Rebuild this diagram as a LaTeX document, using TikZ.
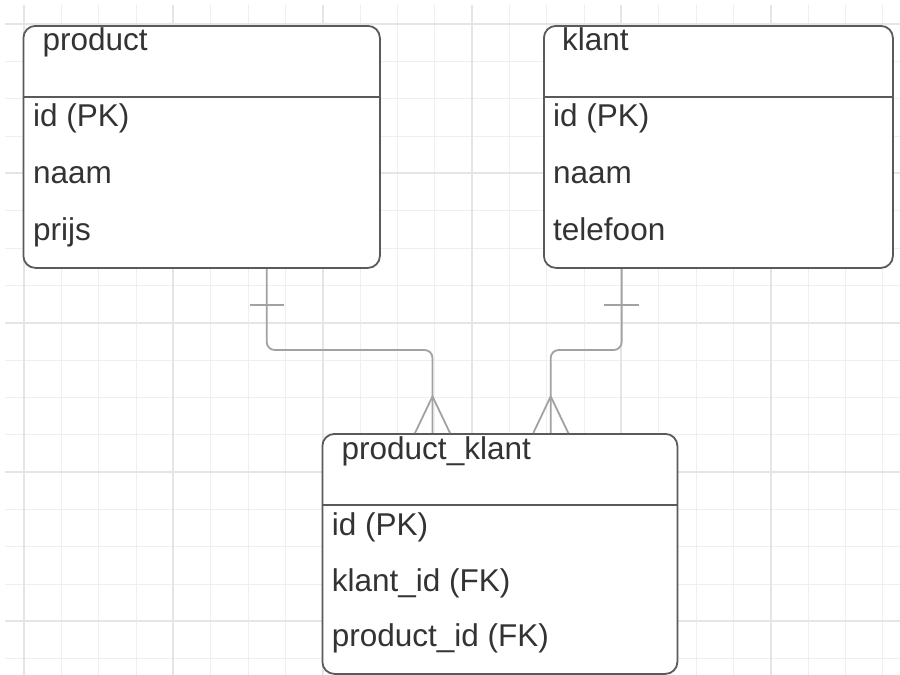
\documentclass[tikz,border=0pt]{standalone}
\usepackage{fontspec}
\setmainfont{Liberation Sans}
\usetikzlibrary{calc}
\definecolor{gridminor}{HTML}{EFEFEF}
\definecolor{gridmajor}{HTML}{E5E5E5}
\definecolor{boxline}{HTML}{5A5A5A}
\definecolor{connline}{HTML}{A2A2A2}
\definecolor{txt}{HTML}{333333}
\tikzset{
  minorline/.style={draw=gridminor, line width=1pt},
  majorline/.style={draw=gridmajor, line width=2pt},
  tablebox/.style={draw=boxline, fill=white, line width=1.8pt, rounded corners=12pt,
    rectangle, inner sep=0pt, anchor=north west},
  divider/.style={draw=boxline, line width=1.8pt},
  label/.style={anchor=base west, inner sep=0pt, text=txt, font=\fontsize{31.5}{36}\selectfont},
  conn/.style={draw=connline, line width=1.8pt},
}
\begin{document}
\begin{tikzpicture}[x=1pt,y=-1pt]
\fill[white] (0,0) rectangle (900,675);
\useasboundingbox (0,0) rectangle (900,675);
% grid
\foreach \i in {0,...,23} {
  \draw[minorline] ({24+37.333*\i},5) -- ({24+37.333*\i},675);
}
\foreach \j in {0,...,17} {
  \draw[minorline] (5,{24+37.333*\j}) -- (900,{24+37.333*\j});
}
\foreach \i in {0,4,...,20} {
  \draw[majorline] ({24+37.333*\i},5) -- ({24+37.333*\i},675);
}
\foreach \j in {0,4,...,16} {
  \draw[majorline] (5,{24+37.333*\j}) -- (900,{24+37.333*\j});
}

% connectors
\draw[conn, rounded corners=8pt] (266.7,267) -- (266.7,350) -- (432.5,350) -- (432.5,433);
\draw[conn, rounded corners=8pt] (621.7,267) -- (621.7,350) -- (550.7,350) -- (550.7,433);

% tables
\node[tablebox, minimum width=356.5pt, minimum height=242pt] (product) at (22.5,25) {};
\node[tablebox, minimum width=349pt, minimum height=242pt] (klant) at (543,25) {};
\node[tablebox, minimum width=355pt, minimum height=240pt] (pk) at (321.5,433) {};

\draw[divider] ($(product.north west)+(0,72)$) -- ($(product.north east)+(0,72)$);
\draw[divider] ($(klant.north west)+(0,72)$) -- ($(klant.north east)+(0,72)$);
\draw[divider] ($(pk.north west)+(0,72)$) -- ($(pk.north east)+(0,72)$);

% texts
\node[label] (productT) at ($(product.north west)+(20,25)$) {product};
\node[label] (product1) at ($(product.north west)+(10.5,101)$) {id (PK)};
\node[label] (product2) at ($(product.north west)+(10.5,158.3)$) {naam};
\node[label] (product3) at ($(product.north west)+(10.5,215)$) {prijs};

\node[label] (klantT) at ($(klant.north west)+(19,25)$) {klant};
\node[label] (klant1) at ($(klant.north west)+(10,101)$) {id (PK)};
\node[label] (klant2) at ($(klant.north west)+(10,158.3)$) {naam};
\node[label] (klant3) at ($(klant.north west)+(10,215)$) {telefoon};

\node[label] (pkT) at ($(pk.north west)+(20,26.3)$) {product\_klant};
\node[label] (pk1) at ($(pk.north west)+(10.2,102)$) {id (PK)};
\node[label] (pk2) at ($(pk.north west)+(10.2,158.7)$) {klant\_id (FK)};
\node[label] (pk3) at ($(pk.north west)+(10.2,213.7)$) {product\_id (FK)};

% one-marks
\draw[conn] ($(product.south west)+(227.5,36.3)$) -- ($(product.south west)+(261.8,36.3)$);
\draw[conn] ($(klant.south west)+(61.3,36.3)$) -- ($(klant.south west)+(96,36.3)$);

% crow's feet
\coordinate (fa) at ($(pk.north west)+(111,-36.6)$);
\draw[conn] ($(pk.north west)+(93.5,0)$) -- (fa) -- ($(pk.north west)+(128.5,0)$);
\coordinate (fb) at ($(pk.north west)+(229.2,-36.6)$);
\draw[conn] ($(pk.north west)+(211.8,0)$) -- (fb) -- ($(pk.north west)+(246.8,0)$);
\end{tikzpicture}
\end{document}
